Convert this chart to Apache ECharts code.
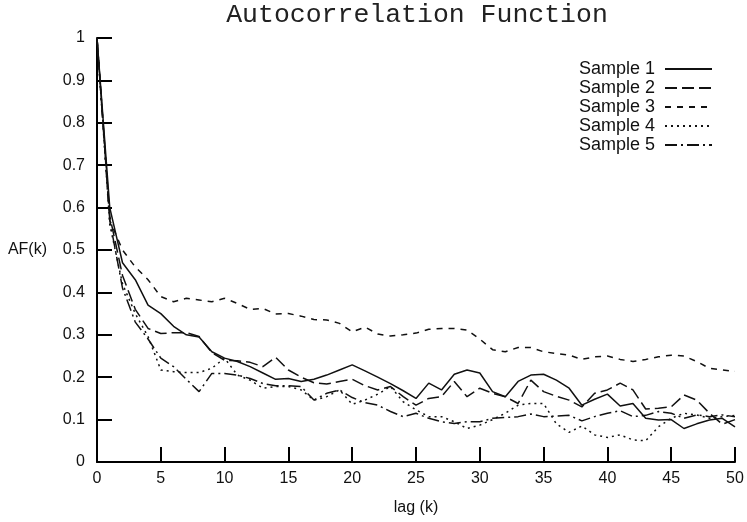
<!DOCTYPE html>
<html>
<head>
<meta charset="utf-8">
<script src="https://cdn.jsdelivr.net/npm/echarts@6/dist/echarts.min.js"></script>
<style>
html,body{margin:0;padding:0;background:#fff;}
#chart{width:747px;height:522px;}
</style>
</head>
<body>
<div id="chart"></div>
<script>
const lags = [0,1,2,3,4,5,6,7,8,9,10,11,12,13,14,15,16,17,18,19,20,21,22,23,24,25,26,27,28,29,30,31,32,33,34,35,36,37,38,39,40,41,42,43,44,45,46,47,48,49,50];
const sample1 = [1.0,0.60,0.47,0.43,0.37,0.35,0.32,0.30,0.295,0.26,0.245,0.237,0.225,0.21,0.195,0.197,0.19,0.195,0.205,0.217,0.229,0.215,0.2,0.185,0.168,0.15,0.186,0.17,0.207,0.217,0.21,0.166,0.154,0.19,0.205,0.207,0.193,0.174,0.134,0.148,0.16,0.132,0.138,0.103,0.099,0.1,0.079,0.09,0.099,0.103,0.083];
const sample2 = [1.0,0.58,0.44,0.36,0.315,0.303,0.305,0.305,0.296,0.258,0.24,0.239,0.235,0.225,0.247,0.217,0.2,0.187,0.184,0.19,0.195,0.18,0.17,0.178,0.154,0.134,0.15,0.154,0.19,0.154,0.174,0.162,0.154,0.138,0.193,0.166,0.155,0.146,0.13,0.162,0.17,0.186,0.17,0.125,0.127,0.13,0.158,0.146,0.115,0.089,0.1];
const sample3 = [1.0,0.57,0.5,0.46,0.43,0.39,0.378,0.386,0.382,0.378,0.386,0.374,0.36,0.362,0.349,0.35,0.344,0.336,0.335,0.327,0.307,0.318,0.302,0.297,0.3,0.304,0.313,0.315,0.315,0.311,0.29,0.265,0.26,0.27,0.27,0.26,0.256,0.252,0.242,0.248,0.25,0.242,0.237,0.242,0.248,0.252,0.25,0.237,0.221,0.217,0.214];
const sample4 = [1.0,0.56,0.42,0.35,0.296,0.217,0.213,0.211,0.211,0.221,0.245,0.205,0.193,0.174,0.178,0.178,0.17,0.146,0.154,0.17,0.136,0.146,0.16,0.178,0.142,0.123,0.107,0.107,0.095,0.079,0.087,0.1,0.115,0.134,0.138,0.138,0.09,0.07,0.085,0.064,0.058,0.064,0.052,0.05,0.083,0.103,0.115,0.111,0.103,0.107,0.11];
const sample5 = [1.0,0.57,0.41,0.33,0.29,0.245,0.225,0.195,0.166,0.209,0.209,0.205,0.197,0.185,0.18,0.18,0.178,0.146,0.162,0.17,0.152,0.14,0.134,0.119,0.107,0.115,0.103,0.095,0.091,0.095,0.095,0.103,0.105,0.107,0.113,0.107,0.108,0.11,0.097,0.107,0.115,0.121,0.107,0.11,0.119,0.115,0.103,0.111,0.107,0.111,0.107];
const seriesNames = ['Sample 1','Sample 2','Sample 3','Sample 4','Sample 5'];
const seriesValues = [sample1, sample2, sample3, sample4, sample5];
const dashTypes = ['solid', [12,5], [6,6], [2,4], [12,4,2,4]];

const chart = echarts.init(document.getElementById('chart'), null, {renderer:'canvas'});
const series = seriesNames.map((name, i) => ({
  name: name,
  type: 'line',
  data: lags.map((k, j) => [k, seriesValues[i][j]]),
  symbol: 'none',
  showSymbol: false,
  animation: false,
  lineStyle: {color: '#111', width: 1.5, type: dashTypes[i]},
  itemStyle: {color: '#111'}
}));

chart.setOption({
  backgroundColor: '#fff',
  animation: false,
  title: {
    text: 'Autocorrelation Function',
    left: 412, top: -4, textAlign: 'center',
    textStyle: {fontFamily: 'Liberation Mono', fontWeight: 'normal', fontSize: 26.5, color: '#222'}
  },
  legend: {
    orient: 'vertical',
    right: 34, top: 60,
    align: 'right',
    padding: 0,
    itemWidth: 47, itemHeight: 12, itemGap: 1,
    itemStyle: {opacity: 0},
    textStyle: {fontFamily: 'Liberation Sans', fontSize: 18, lineHeight: 18, color: '#111', padding: [0, 5, 0, 0]},
    data: seriesNames.map(n => ({name: n}))
  },
  grid: {left: 97, right: 12, top: 38, bottom: 60, containLabel: false},
  xAxis: {
    type: 'value', min: 0, max: 50, interval: 5,
    name: 'lag (k)', nameLocation: 'middle', nameGap: 38,
    nameTextStyle: {fontFamily: 'Liberation Sans', fontSize: 16, color: '#111'},
    axisLine: {show: true, lineStyle: {color: '#000', width: 2}},
    axisTick: {show: true, inside: true, length: 15, lineStyle: {color: '#000', width: 2}},
    axisLabel: {margin: 9, fontFamily: 'Liberation Sans', fontSize: 16, color: '#111'},
    splitLine: {show: false}
  },
  yAxis: {
    type: 'value', min: 0, max: 1, interval: 0.1,
    name: 'AF(k)', nameLocation: 'middle', nameGap: 50, nameRotate: 0,
    nameTextStyle: {fontFamily: 'Liberation Sans', fontSize: 16, color: '#111'},
    axisLine: {show: true, lineStyle: {color: '#000', width: 2}},
    axisTick: {show: true, inside: true, length: 15, lineStyle: {color: '#000', width: 2}},
    axisLabel: {margin: 12, fontFamily: 'Liberation Sans', fontSize: 16, color: '#111'},
    splitLine: {show: false}
  },
  series: series
});
</script>
</body>
</html>
